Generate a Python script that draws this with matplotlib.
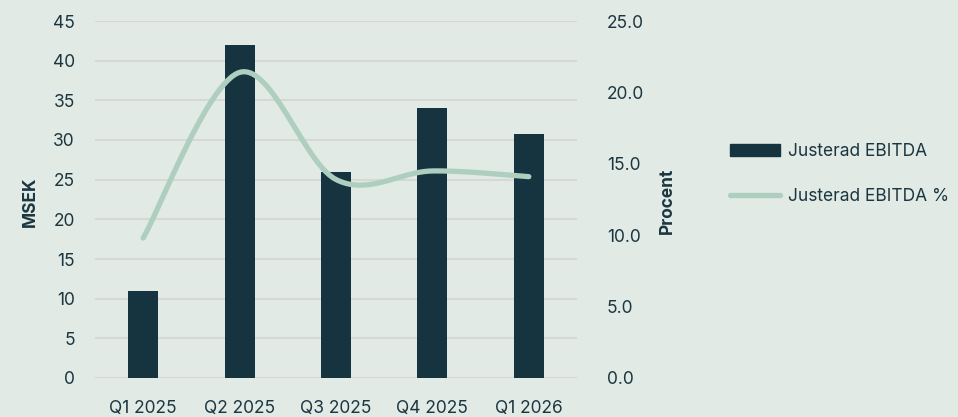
import matplotlib
matplotlib.use("Agg")
import matplotlib.pyplot as plt
import numpy as np
from matplotlib.lines import Line2D
from matplotlib.patches import Patch

categories = ["Q1 2025", "Q2 2025", "Q3 2025", "Q4 2025", "Q1 2026"]
ebitda = [11.0, 42.0, 26.0, 34.0, 30.8]
ebitda_pct = [9.8, 21.4, 13.9, 14.5, 14.1]
left_ticks = [0, 5, 10, 15, 20, 25, 30, 35, 40, 45]
right_ticks = [0, 5, 10, 15, 20, 25]

BG = "#E1EAE5"
BAR = "#163340"
LINE = "#AECFC0"
TXT = "#1C3640"
GRID = "#D6D8D5"

plt.rcParams["font.family"] = ["Inter", "DejaVu Sans"]
FS = 12.5

fig = plt.figure(figsize=(9.58, 4.17), dpi=100, facecolor=BG)
ax = fig.add_axes([95/958, 1-378/417, (577-95)/958, (378-21)/417])
ax.set_facecolor(BG)
x = np.arange(len(categories))
ax.bar(x, ebitda, width=0.31, color=BAR, zorder=2)
ax.set_xlim(-0.5, len(categories)-0.5)
ax.set_ylim(0, 45)
ax.set_yticks(left_ticks)
ax.set_yticklabels([str(t) for t in left_ticks])
ax.set_xticks(x)
ax.set_xticklabels(categories)
ax.grid(axis="y", color=GRID, linewidth=1.5, zorder=0)
ax.set_axisbelow(True)
for s in ax.spines.values():
    s.set_visible(False)
ax.tick_params(axis="y", length=0, pad=14.5, labelsize=FS, labelcolor=TXT)
ax.tick_params(axis="x", length=0, pad=16, labelsize=FS, labelcolor=TXT)

ax2 = ax.twinx()
ax2.set_ylim(0, 25)
ax2.set_yticks(right_ticks)
ax2.set_yticklabels([f"{t:.1f}" for t in right_ticks])
for s in ax2.spines.values():
    s.set_visible(False)
ax2.tick_params(axis="y", length=0, pad=21.5, labelsize=FS, labelcolor=TXT)

fig.text(30/958, 1-202/417, "MSEK", rotation=90, ha="center", va="center",
         fontsize=FS, fontweight="bold", color=TXT)
fig.text(667/958, 1-201/417, "Procent", rotation=90, ha="center", va="center",
         fontsize=FS, fontweight="bold", color=TXT)

# smoothed line (Catmull-Rom style, like Excel smoothing)
P = np.column_stack([x.astype(float), np.array(ebitda_pct)])
ext = np.vstack([P[0], P, P[-1]])
xs, ys = [], []
t = np.linspace(0, 1, 60)
for i in range(len(P)-1):
    p0, p1, p2, p3 = ext[i], ext[i+1], ext[i+2], ext[i+3]
    c1 = p1 + (p2 - p0) / 6
    c2 = p2 - (p3 - p1) / 6
    b = ((1-t)**3)[:, None]*p1 + (3*(1-t)**2*t)[:, None]*c1 + (3*(1-t)*t**2)[:, None]*c2 + (t**3)[:, None]*p2
    xs.extend(b[:, 0]); ys.extend(b[:, 1])
ax2.plot(xs, ys, color=LINE, linewidth=3.8, solid_capstyle="round", zorder=3)

handles = [Patch(facecolor=BAR, edgecolor=BAR),
           Line2D([0], [0], color=LINE, linewidth=3.8, solid_capstyle="round")]
fig.legend(handles, ["Justerad EBITDA", "Justerad EBITDA %"],
           loc="center left", bbox_to_anchor=(730/958, 1-174/417),
           frameon=False, fontsize=FS, labelcolor=TXT,
           handlelength=2.9, handleheight=0.75, handletextpad=0.45, labelspacing=1.6,
           borderpad=0, borderaxespad=0)

fig.savefig("out.png", dpi=100, facecolor=BG)
